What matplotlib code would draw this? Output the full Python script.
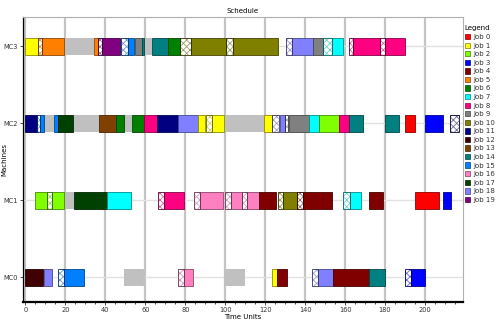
import matplotlib
matplotlib.use("Agg")
import matplotlib.pyplot as plt
from matplotlib.patches import Rectangle, Patch
from matplotlib.ticker import MultipleLocator
import matplotlib.colors as mcolors

machines = ["MC0", "MC1", "MC2", "MC3"]
job_names = [f"Job {i}" for i in range(20)]
job_colors = ["#FF0000", "#FFFF00", "#80FF00", "#0000FF", "#800000",
              "#FF8000", "#008000", "#00FFFF", "#FF0080", "#808080",
              "#808000", "#000080", "#400000", "#804000", "#008080",
              "#0080FF", "#FF80C0", "#004000", "#8080FF", "#800080"]

# processing operations: (start, end, job)
ops_mc0 = [(0, 8.7, 12), (9.5, 13.2, 18), (19.5, 29.5, 15), (79.5, 84, 16),
           (123.5, 126, 1), (126, 131, 4), (146.2, 154, 18), (154, 172, 4),
           (172, 180.2, 14), (193.2, 200.2, 3)]
ops_mc1 = [(4.7, 10.7, 2), (13.5, 19.4, 2), (24.4, 40.7, 17), (40.7, 52.7, 7),
           (69.3, 79.3, 8), (87.3, 99, 16), (102.7, 108.2, 16), (111, 117, 16),
           (117, 125.3, 4), (129, 136, 10), (138.7, 153.2, 4), (162.3, 168, 7),
           (172, 179, 4), (195, 207, 0), (209, 213, 3)]
ops_mc2 = [(0, 5.7, 11), (7.4, 9.4, 15), (14.4, 16.5, 15), (16.5, 24, 17),
           (37, 45.4, 13), (45.4, 49.4, 6), (53.5, 59.4, 6), (59.4, 66, 8),
           (66, 76.5, 11), (76.5, 86.5, 18), (86.5, 90, 1), (93.5, 99.4, 1),
           (119.4, 123.2, 1), (127.3, 129.9, 18), (131.7, 142, 9), (142, 147, 7),
           (147, 157, 2), (157, 162, 8), (162, 169, 14), (180, 187, 14),
           (190, 195, 0), (200, 209, 3)]
ops_mc3 = [(0, 6.2, 1), (8.5, 19.5, 5), (34.5, 36.2, 5), (38.2, 47.5, 19),
           (51.5, 54.5, 15), (54.7, 58.2, 9), (58.2, 59.4, 14), (63.5, 71.5, 14),
           (71.5, 77.4, 6), (82.7, 100.2, 10), (104, 126.2, 10), (133.5, 143.7, 18),
           (144, 149, 9), (153.5, 159, 7), (163.7, 177.7, 8), (180, 190, 8)]

# setup periods: (start, end, job being set up)
setup_mc0 = [(16.5, 19.5, 15), (76.5, 79.5, 16), (143.5, 146.2, 18), (190.2, 193.2, 3)]
setup_mc1 = [(10.7, 13.5, 2), (66.5, 69.3, 8), (84.5, 87.3, 16), (99.8, 102.7, 16),
             (108.5, 111, 16), (126.2, 129, 10), (136, 138.7, 4), (159, 162.3, 7)]
setup_mc2 = [(5.7, 7.4, 15), (90.2, 93.5, 1), (123.5, 127, 18), (129.9, 131.5, 9),
             (212.7, 217, 11)]
setup_mc3 = [(6.2, 8.3, 5), (36.2, 38.2, 19), (47.7, 51.3, 15), (77.4, 82.7, 10),
             (100.2, 104, 10), (130.2, 133.5, 18), (149, 153.5, 7), (162, 163.7, 8),
             (177.7, 180, 8)]

# machine unavailability: (start, end)
down_mc0 = [(49.5, 60), (99.4, 110)]
down_mc1 = [(19.4, 24.4)]
down_mc2 = [(9.4, 14.4), (24.4, 37), (49.4, 53.5), (99.4, 119.4)]
down_mc3 = [(19.5, 34.5), (59.4, 63.5)]

ops = [ops_mc0, ops_mc1, ops_mc2, ops_mc3]
setups = [setup_mc0, setup_mc1, setup_mc2, setup_mc3]
downs = [down_mc0, down_mc1, down_mc2, down_mc3]

plt.rcParams["font.family"] = "DejaVu Sans"
plt.rcParams["hatch.linewidth"] = 0.6

fig = plt.figure(figsize=(5.0, 3.3), dpi=100)
ax = fig.add_axes([0.046, 0.085, 0.88, 0.863])

bar_h = 0.216


def darker(c, f=0.55):
    r, g, b = mcolors.to_rgb(c)
    return (r * f, g * f, b * f)


def tint(c, f=0.4):
    r, g, b = mcolors.to_rgb(c)
    gray = 0.7
    return (gray + (r - gray) * f, gray + (g - gray) * f, gray + (b - gray) * f)


for m in range(len(machines)):
    y0 = m - bar_h / 2
    for s, e in downs[m]:
        ax.add_patch(Rectangle((s, y0), e - s, bar_h, facecolor="#c0c0c0",
                               edgecolor="none", zorder=2))
    for s, e, j in setups[m]:
        ax.add_patch(Rectangle((s, y0), e - s, bar_h, facecolor="white",
                               edgecolor=tint(job_colors[j]), hatch="xxxxx",
                               linewidth=0, zorder=3))
        ax.add_patch(Rectangle((s, y0), e - s, bar_h, fill=False,
                               edgecolor=darker(job_colors[j], 0.4),
                               linewidth=0.6, zorder=4))
    for s, e, j in ops[m]:
        ax.add_patch(Rectangle((s, y0), e - s, bar_h, facecolor=job_colors[j],
                               edgecolor=darker(job_colors[j]), linewidth=0.6,
                               zorder=3))

ax.set_xlim(-1.2, 219)
ax.set_ylim(-0.32, 3.38)

for xv in range(0, 220, 20):
    ax.axvline(xv, color="#c4c4c4", linewidth=1.6, zorder=1)
for m in range(len(machines)):
    ax.axhline(m, color="#e2e2e2", linewidth=1.0, zorder=1)

ax.set_yticks(range(len(machines)))
ax.set_yticklabels(machines)
ax.xaxis.set_major_locator(MultipleLocator(20))
ax.xaxis.set_minor_locator(MultipleLocator(5))
ax.tick_params(axis="both", labelsize=4.8, length=2, width=0.6, pad=1.5,
               colors="#333333")
ax.tick_params(axis="x", which="minor", length=1.2, width=0.5)

for side in ("top", "right"):
    ax.spines[side].set_color("#b0b0b0")
    ax.spines[side].set_linewidth(0.8)
ax.spines["left"].set_color("black")
ax.spines["left"].set_linewidth(0.9)
ax.spines["bottom"].set_color("black")
ax.spines["bottom"].set_linewidth(1.6)

ax.set_title("Schedule", fontsize=5, pad=3)
ax.set_xlabel("Time Units", fontsize=5, labelpad=1)
ax.set_ylabel("Machines", fontsize=5)
ax.yaxis.set_label_coords(-0.036, 0.5)

handles = [Patch(facecolor=c, edgecolor=darker(c, 0.5), linewidth=0.5)
           for c in job_colors]
leg = fig.legend(handles, job_names, loc="upper left",
                 bbox_to_anchor=(0.928, 0.925), frameon=False, fontsize=5,
                 title="Legend", title_fontsize=5, labelspacing=0.36,
                 handlelength=0.8, handleheight=0.8, handletextpad=0.5,
                 borderpad=0.1, borderaxespad=0)
leg._legend_box.align = "left"
for t in leg.get_texts():
    t.set_color("#333333")

fig.savefig("out.png", dpi=100)
